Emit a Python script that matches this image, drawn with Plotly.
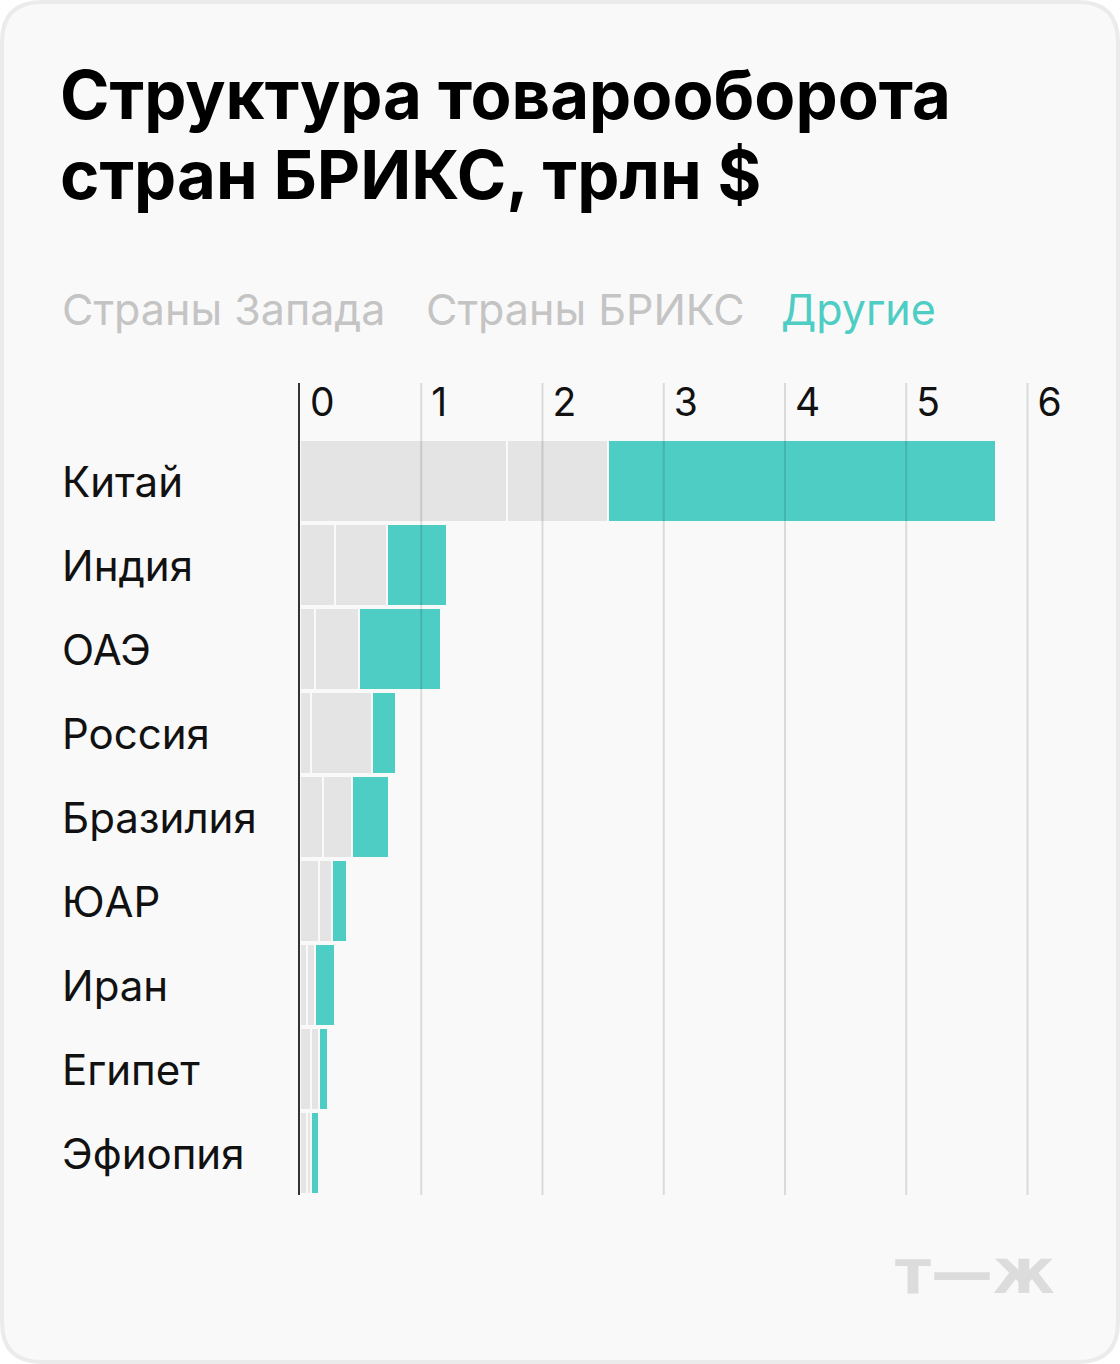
import plotly.graph_objects as go

countries = ["Китай", "Индия", "ОАЭ", "Россия", "Бразилия", "ЮАР", "Иран", "Египет", "Эфиопия"]
west = [1.71, 0.29, 0.12, 0.09, 0.19, 0.16, 0.06, 0.09, 0.06]
brics = [0.83, 0.43, 0.37, 0.50, 0.24, 0.10, 0.065, 0.07, 0.03]
other = [3.20, 0.49, 0.67, 0.20, 0.30, 0.13, 0.165, 0.07, 0.07]
tick_vals = [0, 1, 2, 3, 4, 5, 6]

series = [("Страны Запада", west, "#e4e4e4"),
          ("Страны БРИКС", brics, "#e4e4e4"),
          ("Другие", other, "#4ecdc4")]
title_lines = ["Структура товарооборота", "стран БРИКС, трлн $"]

W, H = 1120, 1364
L, T, B = 300, 383, 169
x_max = 6.4
pw = round(x_max * 121.2)
R = W - L - pw
ph = H - T - B

def px(x):
    return (x - L) / pw

def py(y):
    return (H - B - y) / ph

FONT = "Inter, Roboto, sans-serif"

fig = go.Figure()
for name, vals, col in series:
    fig.add_trace(go.Bar(y=countries, x=vals, orientation="h", name=name,
                         marker=dict(color=col, line=dict(color="#f9f9f9", width=2))))

# card background with rounded corners
r, s = 40, 2
x0, x1, y0, y1 = s, W - s, s, H - s
path = (f"M {px(x0 + r)},{py(y0)} L {px(x1 - r)},{py(y0)} Q {px(x1)},{py(y0)} {px(x1)},{py(y0 + r)} "
        f"L {px(x1)},{py(y1 - r)} Q {px(x1)},{py(y1)} {px(x1 - r)},{py(y1)} "
        f"L {px(x0 + r)},{py(y1)} Q {px(x0)},{py(y1)} {px(x0)},{py(y1 - r)} "
        f"L {px(x0)},{py(y0 + r)} Q {px(x0)},{py(y0)} {px(x0 + r)},{py(y0)} Z")
shapes = [dict(type="path", path=path, xref="paper", yref="paper", layer="below",
               fillcolor="#f9f9f9", line=dict(color="#ebebeb", width=4))]
# gridlines drawn over the bars
for t in tick_vals[1:]:
    shapes.append(dict(type="line", xref="x", yref="paper", x0=t, x1=t, y0=0, y1=1,
                       layer="above", line=dict(color="rgba(0,0,0,0.12)", width=2)))

annotations = [
    dict(text="т—ж", xref="paper", yref="paper", x=px(975), y=py(1271), xanchor="center",
         yanchor="middle", showarrow=False,
         font=dict(family="DejaVu Sans", size=62, color="#dcdcdc", weight="bold")),
]
for i, line in enumerate(title_lines):
    annotations.append(dict(text=f"<b>{line}</b>", xref="paper", yref="paper",
                            x=px(58), y=py(52 + 80 * i), xanchor="left", yanchor="top",
                            showarrow=False, font=dict(family=FONT, size=67, color="#000")))
leg_x = [60, 424, 779]
for (name, _, col), lx in zip(series, leg_x):
    annotations.append(dict(text=name, xref="paper", yref="paper", x=px(lx), y=py(309),
                            xanchor="left", yanchor="middle", showarrow=False,
                            font=dict(family=FONT, size=43,
                                      color=col if col != "#e4e4e4" else "#c4c4c4")))
for c in countries:
    annotations.append(dict(text=c, xref="paper", yref="y", x=px(60), y=c, xanchor="left",
                            yanchor="middle", showarrow=False,
                            font=dict(family=FONT, size=42, color="#111")))

fig.update_layout(
    width=W, height=H, margin=dict(l=L, r=R, t=T, b=B),
    barmode="stack", bargap=0.024, showlegend=False,
    paper_bgcolor="#ffffff", plot_bgcolor="rgba(0,0,0,0)",
    shapes=shapes, annotations=annotations,
    xaxis=dict(range=[0, x_max], side="top", tickvals=tick_vals, showgrid=False, zeroline=False,
               ticklabelposition="inside right", ticks="", ticklabelshift=10,
               tickfont=dict(family=FONT, size=39, color="#111")),
    yaxis=dict(range=[8.5, -1.17], showticklabels=False, showgrid=False, ticks="",
               showline=True, linecolor="#333", linewidth=2, layer="above traces"),
)
fig.write_html("out.html", config={"displayModeBar": False},
               post_script="document.body.style.margin='0';")
